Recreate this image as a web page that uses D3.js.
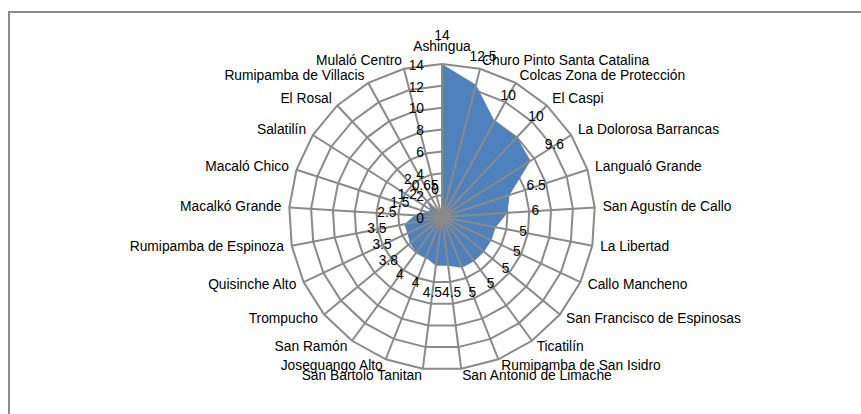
<!DOCTYPE html>
<html>
<head>
<meta charset="utf-8">
<script src="https://cdn.jsdelivr.net/npm/d3@7"></script>
<style>
  body { margin: 0; background: #fff; }
  svg { display: block; font-family: 'Liberation Sans', Arial, sans-serif; }
</style>
</head>
<body>
<div id="chart"></div>
<script>
const categories = [
  'Ashingua', 'Churo Pinto Santa Catalina', 'Colcas Zona de Protección', 'El Caspi',
  'La Dolorosa Barrancas', 'Langualó Grande', 'San Agustín de Callo', 'La Libertad',
  'Callo Mancheno', 'San Francisco de Espinosas', 'Ticatilín', 'Rumipamba de San Isidro',
  'San Antonio de Limache', 'San Bartolo Tanitan', 'Joseguango Alto', 'San Ramón',
  'Trompucho', 'Quisinche Alto', 'Rumipamba de Espinoza', 'Macalkó Grande',
  'Macaló Chico', 'Salatilín', 'El Rosal', 'Rumipamba de Villacis', 'Mulaló Centro'
];
const values = [
  14, 12.5, 10, 10, 9.6, 6.5, 6, 5, 5, 5, 5, 5,
  4.5, 4.5, 4, 4, 3.8, 3.5, 3.5, 2.5, 1.5, 1.2, 2, 0.65, 0
];
const ticks = [0, 2, 4, 6, 8, 10, 12, 14];

const w = 861;
const h = 414;
const cx = 442;
const cy = 217;
const R = 153;
const n = categories.length;
const fs = 13.8;

const svg = d3
  .select('#chart')
  .append('svg')
  .attr('width', w)
  .attr('height', h);

svg.append('rect').attr('width', w).attr('height', h).attr('fill', '#fff');

// chart area border (runs off the right and bottom edges)
svg
  .append('rect')
  .attr('x', 9)
  .attr('y', 12)
  .attr('width', 900)
  .attr('height', 500)
  .attr('fill', 'none')
  .attr('stroke', '#8c8c8c')
  .attr('stroke-width', 2);

const rScale = d3.scaleLinear().domain([0, 14]).range([0, R]);
const angle = (i) => (i * 2 * Math.PI) / n;

const g = svg.append('g').attr('transform', 'translate(' + cx + ',' + cy + ')');

// grid rings
const ring = d3
  .lineRadial()
  .angle((d, i) => angle(i))
  .curve(d3.curveLinearClosed);

g.selectAll('.ring')
  .data(ticks.filter((t) => t > 0))
  .enter()
  .append('path')
  .attr('class', 'ring')
  .attr('d', (t) => ring.radius(rScale(t))(categories))
  .attr('fill', 'none')
  .attr('stroke', '#8a8a8a')
  .attr('stroke-width', 2);

// series
const area = d3
  .lineRadial()
  .angle((d, i) => angle(i))
  .radius((d) => rScale(d))
  .curve(d3.curveLinearClosed);

g.append('path').attr('d', area(values)).attr('fill', '#4f81bd');

// spokes
g.selectAll('.spoke')
  .data(categories)
  .enter()
  .append('line')
  .attr('class', 'spoke')
  .attr('x1', 0)
  .attr('y1', 0)
  .attr('x2', (d, i) => rScale(14) * Math.sin(angle(i)))
  .attr('y2', (d, i) => -rScale(14) * Math.cos(angle(i)))
  .attr('stroke', '#8a8a8a')
  .attr('stroke-width', 2);

// axis labels
g.selectAll('.tick')
  .data(ticks)
  .enter()
  .append('text')
  .attr('x', -18)
  .attr('y', (t) => -rScale(t) + 2)
  .attr('text-anchor', 'end')
  .attr('dominant-baseline', 'middle')
  .attr('font-size', fs)
  .attr('fill', '#000')
  .text((t) => t);

// category labels
g.selectAll('.cat')
  .data(categories)
  .enter()
  .append('text')
  .attr('x', (d, i) => (R + 8) * Math.sin(angle(i)))
  .attr('y', (d, i) => -(R + 8) * Math.cos(angle(i)) - (i === 0 ? 9 : 0))
  .attr('text-anchor', (d, i) => {
    const s = Math.sin(angle(i));
    return s > 0.01 ? 'start' : s < -0.01 ? 'end' : 'middle';
  })
  .attr('dominant-baseline', 'middle')
  .attr('font-size', fs)
  .attr('fill', '#000')
  .text((d) => d);

// data labels
g.selectAll('.val')
  .data(values)
  .enter()
  .append('text')
  .attr('x', (d, i) => (rScale(d) + 28) * Math.sin(angle(i)))
  .attr('y', (d, i) => -(rScale(d) + 28) * Math.cos(angle(i)))
  .attr('text-anchor', 'middle')
  .attr('dominant-baseline', 'middle')
  .attr('font-size', fs)
  .attr('fill', '#000')
  .text((d) => d);
</script>
</body>
</html>
